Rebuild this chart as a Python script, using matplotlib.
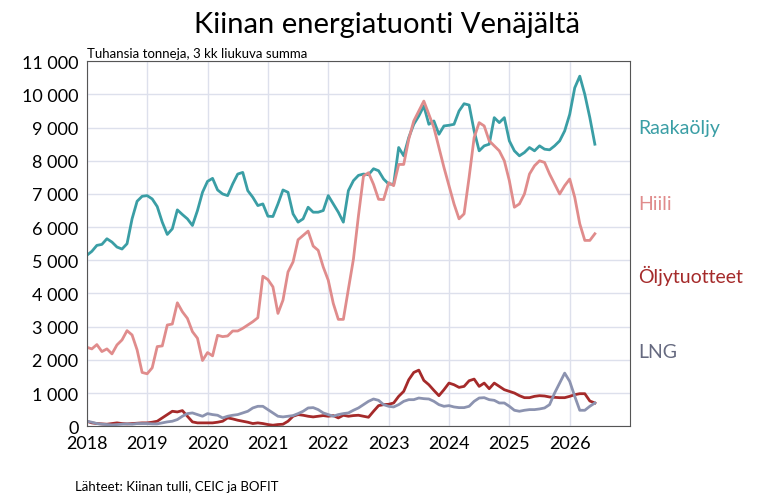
import numpy as np
import matplotlib.pyplot as plt
from matplotlib.ticker import FuncFormatter

plt.rcParams['font.family'] = ['Lato', 'DejaVu Sans']

# monthly values, Jan 2018 - Jun 2026, thousand tonnes (3 month rolling sum)
raakaoljy = [5150, 5270, 5450, 5480, 5650, 5550, 5400, 5340, 5500, 6250, 6780, 6930,
             6950, 6850, 6620, 6150, 5780, 5950, 6520, 6380, 6250, 6050, 6500, 7050,
             7380, 7470, 7120, 7000, 6950, 7300, 7600, 7650, 7100, 6900, 6650, 6700,
             6330, 6320, 6700, 7120, 7050, 6400, 6150, 6250, 6600, 6450, 6450, 6500,
             6950, 6700, 6450, 6150, 7100, 7400, 7560, 7600, 7580, 7760, 7700, 7450,
             7300, 7290, 8400, 8150, 8700, 9100, 9350, 9650, 9100, 9200, 8800, 9050,
             9070, 9100, 9500, 9720, 9680, 8900, 8300, 8450, 8500, 9300, 9150, 9300,
             8600, 8300, 8150, 8250, 8400, 8300, 8450, 8350, 8330, 8450, 8600, 8900,
             9400, 10200, 10550, 10000, 9300, 8500]
hiili = [2380, 2330, 2460, 2250, 2330, 2180, 2450, 2600, 2880, 2750, 2300, 1620,
         1580, 1760, 2400, 2420, 3050, 3080, 3720, 3450, 3250, 2850, 2650, 1980,
         2220, 2120, 2740, 2700, 2720, 2870, 2870, 2950, 3050, 3150, 3270, 4520,
         4420, 4200, 3400, 3800, 4650, 4950, 5620, 5750, 5880, 5430, 5300, 4800,
         4400, 3700, 3220, 3220, 4130, 5030, 6340, 7540, 7640, 7290, 6840, 6830,
         7340, 7250, 7890, 7890, 8650, 9200, 9500, 9800, 9400, 9000, 8400, 7800,
         7250, 6700, 6250, 6400, 7500, 8700, 9150, 9050, 8600, 8450, 8300, 8000,
         7400, 6600, 6700, 7000, 7600, 7850, 8000, 7950, 7600, 7300, 7000, 7250,
         7450, 6900, 6100, 5600, 5600, 5800]
oljytuotteet = [150, 100, 80, 70, 60, 80, 100, 80, 70, 80, 90, 100,
                100, 120, 150, 250, 350, 450, 430, 470, 300, 130, 100, 100,
                100, 100, 120, 150, 250, 220, 180, 150, 120, 80, 100, 80,
                50, 30, 50, 60, 150, 300, 350, 330, 300, 280, 300, 320,
                300, 320, 250, 330, 300, 320, 330, 300, 270, 450, 620, 650,
                660, 700, 900, 1050, 1400, 1620, 1690, 1380, 1250, 1080, 920, 1100,
                1300, 1250, 1170, 1200, 1370, 1420, 1200, 1300, 1130, 1300, 1200, 1100,
                1050, 1000, 920, 860, 860, 900, 920, 910, 880, 870, 860, 860,
                900, 950, 980, 980, 760, 700]
lng = [150, 120, 80, 60, 50, 40, 50, 60, 70, 60, 80, 80,
       80, 70, 70, 100, 130, 150, 200, 300, 380, 400, 350, 300,
       380, 350, 330, 250, 300, 330, 350, 400, 450, 550, 600, 600,
       500, 400, 300, 280, 300, 320, 380, 450, 550, 560, 500, 400,
       350, 300, 350, 380, 400, 480, 550, 650, 750, 820, 780, 650,
       600, 580, 650, 750, 800, 800, 850, 830, 820, 750, 650, 600,
       620, 580, 560, 560, 600, 750, 850, 860, 800, 780, 700, 700,
       600, 480, 450, 480, 500, 500, 520, 550, 650, 1000, 1300, 1600,
       1350, 900, 480, 480, 600, 700]

names = ['Raakaöljy', 'Hiili', 'Öljytuotteet', 'LNG']
colors = ['#3a9ea5', '#e08c8c', '#a52a2a', '#8c93b0']
label_colors = ['#3a9ea5', '#e08c8c', '#a52a2a', '#666a80']
label_y = [9000, 6700, 4550, 2250]

t = 2018 + np.arange(len(raakaoljy)) / 12

fig = plt.figure(figsize=(7.75, 5.02), dpi=100)
ax = fig.add_axes([0.112, 0.149, 0.701, 0.727])

for vals, c in zip([raakaoljy, hiili, oljytuotteet, lng], colors):
    ax.plot(t, vals, color=c, linewidth=2)

ax.set_xlim(2018, 2027)
ax.set_ylim(0, 11000)
ax.set_xticks(range(2018, 2027))
ax.set_yticks(range(0, 11001, 1000))
ax.yaxis.set_major_formatter(FuncFormatter(lambda v, p: f'{int(v):,}'.replace(',', ' ')))
ax.grid(color='#dde0ec', linewidth=1)
ax.tick_params(length=0, labelsize=13, pad=6)
for s in ax.spines.values():
    s.set_color('#555555')

for n, c, y in zip(names, label_colors, label_y):
    ax.text(1.015, y / 11000, n, transform=ax.transAxes, color=c,
            fontsize=14, va='center', ha='left')

fig.text(0.5, 0.95, 'Kiinan energiatuonti Venäjältä', ha='center', va='center', fontsize=21)
ax.text(0.0, 1.005, 'Tuhansia tonneja, 3 kk liukuva summa', transform=ax.transAxes,
        fontsize=9.5, va='bottom', ha='left')
fig.text(0.097, 0.018, 'Lähteet: Kiinan tulli, CEIC ja BOFIT', fontsize=9.5, va='bottom')

fig.savefig('out.png', dpi=100)
